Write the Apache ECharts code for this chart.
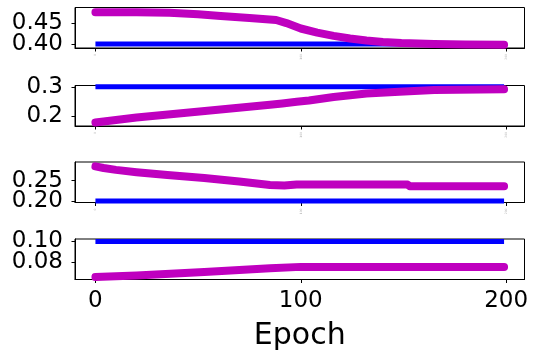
<!DOCTYPE html>
<html><head><meta charset="utf-8">
<script src="https://cdn.jsdelivr.net/npm/echarts@6/dist/echarts.min.js"></script>
<style>html,body{margin:0;padding:0;background:#fff}#c{width:538px;height:356px}</style>
</head><body><div id="c"></div>
<script>
// ---- data ----
const xTicks = [0, 100, 200];
const xRange = [-9.95, 208.95];
const xName = 'Epoch';
const lastEpoch = 199;

const epochs1 = [0, 20, 36, 50, 61, 75, 88, 93, 100, 108, 116, 124, 132, 140, 149, 165, 180, 199];
const magenta1 = [0.4769, 0.4765, 0.4752, 0.4718, 0.4674, 0.4628, 0.458, 0.4505, 0.4375, 0.4275, 0.4198, 0.4135, 0.4088, 0.4052, 0.4024, 0.4002, 0.3992, 0.3985];
const blue1 = 0.40;
const yTicks1 = [0.40, 0.45];
const yTickLabels1 = ['0.40', '0.45'];
const yRange1 = [0.3905, 0.4881];

const epochs2 = [0, 20, 52, 85, 91, 98, 104, 116, 132, 148, 165, 199];
const magenta2 = [0.1775, 0.1945, 0.2164, 0.2382, 0.2429, 0.2485, 0.2527, 0.2647, 0.2771, 0.2829, 0.2891, 0.2916];
const blue2 = 0.30;
const yTicks2 = [0.2, 0.3];
const yTickLabels2 = ['0.2', '0.3'];
const yRange2 = [0.1655, 0.3044];

const epochs3 = [0, 4, 10, 20, 35, 53, 70, 85, 92, 98, 152, 153, 199];
const magenta3 = [0.285, 0.281, 0.2765, 0.2708, 0.2638, 0.2566, 0.2478, 0.2395, 0.238, 0.2405, 0.2405, 0.2365, 0.2365];
const blue3 = 0.20;
const yTicks3 = [0.20, 0.25];
const yTickLabels3 = ['0.20', '0.25'];
const yRange3 = [0.1965, 0.2958];

const epochs4 = [0, 20, 53, 85, 100, 199];
const magenta4 = [0.0661, 0.0677, 0.071, 0.0744, 0.0758, 0.0756];
const blue4 = 0.10;
const yTicks4 = [0.08, 0.10];
const yTickLabels4 = ['0.08', '0.10'];
const yRange4 = [0.0638, 0.1023];

// ---- build ----
const panels = [
  {ep: epochs1, m: magenta1, b: blue1, yt: yTicks1, yl: yTickLabels1, yr: yRange1},
  {ep: epochs2, m: magenta2, b: blue2, yt: yTicks2, yl: yTickLabels2, yr: yRange2},
  {ep: epochs3, m: magenta3, b: blue3, yt: yTicks3, yl: yTickLabels3, yr: yRange3},
  {ep: epochs4, m: magenta4, b: blue4, yt: yTicks4, yl: yTickLabels4, yr: yRange4}
];
const tops = [7.5, 85.5, 162, 239];
const FONT = 'DejaVu Sans';
const grid = [], xAxis = [], yAxis = [], series = [];
panels.forEach((p, i) => {
  const last = i === panels.length - 1;
  grid.push({left: 75, top: tops[i], width: 449.5, height: 40.5, show: true,
    borderColor: '#000', borderWidth: 1, backgroundColor: 'transparent'});
  xAxis.push({
    type: 'value', gridIndex: i, min: xRange[0], max: xRange[1],
    axisLine: {show: true, onZero: false, lineStyle: {color: '#000', width: 1}},
    axisTick: {show: true, customValues: xTicks, length: 3.5, lineStyle: {color: '#000', width: 1}},
    axisLabel: last
      ? {customValues: xTicks, fontSize: 23, fontFamily: FONT, color: '#000', margin: 10, hideOverlap: false}
      : {customValues: xTicks, fontSize: 3, rotate: 90, fontFamily: FONT, color: '#aaa', margin: 6, hideOverlap: false},
    splitLine: {show: false},
    name: last ? xName : '', nameLocation: 'middle', nameGap: 42,
    nameTextStyle: {fontSize: 30, fontFamily: FONT, color: '#000'}
  });
  // one y axis per tick label so the tightly packed labels are never hidden
  p.yt.forEach((t, k) => {
    yAxis.push({
      type: 'value', gridIndex: i, min: p.yr[0], max: p.yr[1], position: 'left', offset: 0,
      axisLine: {show: k === 0, onZero: false, lineStyle: {color: '#000', width: 1}},
      axisTick: {show: k === 0, customValues: p.yt, length: 3.5, lineStyle: {color: '#000', width: 1}},
      axisLabel: {customValues: [t], fontSize: 23, fontFamily: FONT, color: '#000', margin: 12,
        hideOverlap: false, formatter: () => p.yl[k]},
      splitLine: {show: false}
    });
  });
  const yIdx = yAxis.length - p.yt.length;
  series.push({
    type: 'line', xAxisIndex: i, yAxisIndex: yIdx, showSymbol: false, silent: true,
    data: [[0, p.b], [lastEpoch, p.b]],
    lineStyle: {color: '#0000FF', width: 5, cap: 'butt'}, z: 2
  });
  series.push({
    type: 'line', xAxisIndex: i, yAxisIndex: yIdx, showSymbol: false, silent: true,
    data: p.ep.map((e, j) => [e, p.m[j]]),
    lineStyle: {color: '#BF00BF', width: 8, cap: 'round', join: 'round'}, z: 3
  });
});
const chart = echarts.init(document.getElementById('c'), null, {renderer: 'canvas'});
chart.setOption({animation: false, backgroundColor: '#fff', grid, xAxis, yAxis, series});
</script>
</body></html>
